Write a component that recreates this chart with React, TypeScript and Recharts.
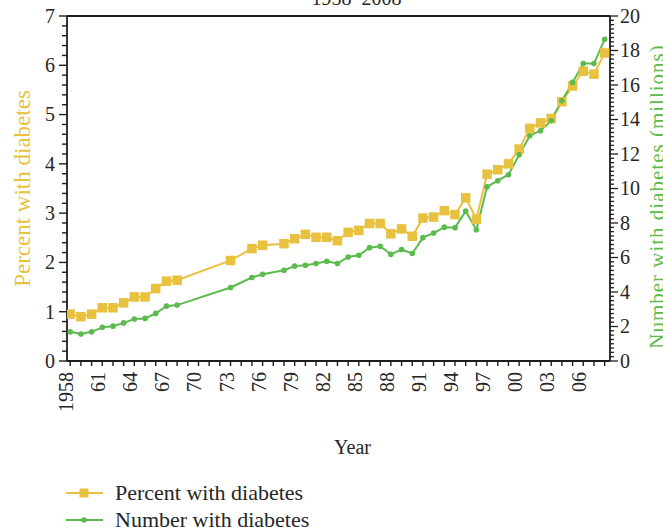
import React from 'react';
import { LineChart, Line, XAxis, YAxis, ReferenceLine, Legend } from 'recharts';

// ---------- data ----------
const years = [
  1958, 1959, 1960, 1961, 1962, 1963, 1964, 1965, 1966, 1967, 1968,
  1973, 1975, 1976, 1978, 1979,
  1980, 1981, 1982, 1983, 1984, 1985, 1986, 1987, 1988, 1989,
  1990, 1991, 1992, 1993, 1994, 1995, 1996, 1997, 1998, 1999,
  2000, 2001, 2002, 2003, 2004, 2005, 2006, 2007, 2008,
];

const percentWithDiabetes = [
  0.95, 0.9, 0.95, 1.08, 1.08, 1.18, 1.3, 1.3, 1.47, 1.62, 1.64,
  2.04, 2.28, 2.35, 2.38, 2.48,
  2.57, 2.51, 2.51, 2.44, 2.61, 2.65, 2.79, 2.79, 2.58, 2.68,
  2.53, 2.9, 2.92, 3.05, 2.97, 3.31, 2.88, 3.79, 3.88, 4.0,
  4.3, 4.72, 4.83, 4.92, 5.26, 5.58, 5.88, 5.82, 6.25,
];

const numberWithDiabetes = [
  1.69, 1.56, 1.69, 1.95, 2.02, 2.21, 2.43, 2.47, 2.76, 3.18, 3.24,
  4.26, 4.84, 5.03, 5.26, 5.5,
  5.55, 5.65, 5.78, 5.65, 6.03, 6.13, 6.57, 6.65, 6.18, 6.46,
  6.23, 7.15, 7.42, 7.76, 7.73, 8.69, 7.61, 10.1, 10.45, 10.8,
  11.95, 13.06, 13.35, 13.93, 15.09, 16.15, 17.24, 17.24, 18.65,
];

const xTickLabels = [
  '1958', '61', '64', '67', '70', '73', '76', '79', '82',
  '85', '88', '91', '94', '97', '00', '03', '06',
];
const leftMajorTicks = [0, 1, 2, 3, 4, 5, 6, 7];
const rightMajorTicks = [0, 2, 4, 6, 8, 10, 12, 14, 16, 18, 20];

const titleText = '1958–2008';
const xAxisTitle = 'Year';
const leftAxisTitle = 'Percent with diabetes';
const rightAxisTitle = 'Number with diabetes (millions)';
const seriesNames = ['Percent with diabetes', 'Number with diabetes'];

// ---------- styling ----------
const YELLOW = '#E8C13E';
const GREEN = '#5BBB4C';
const AXIS = '#1e1e1e';
const TEXT = '#262626';
const FONT = "'Liberation Serif', serif";
const TICK_SIZE = 8;
const TICK_MARGIN = 4;

const data = years.map((year, i) => ({
  year,
  percent: percentWithDiabetes[i],
  number: numberWithDiabetes[i],
}));

const xTicks: number[] = [];
for (let y = 1958; y <= 2008; y++) xTicks.push(y);
const xLabelByYear: Record<number, string> = {};
xTickLabels.forEach((l, i) => {
  xLabelByYear[1958 + 3 * i] = l;
});

const leftTicks: number[] = [];
for (let k = 0; k <= 35; k++) leftTicks.push(Math.round(k * 2) / 10);
const rightTicks: number[] = [];
for (let k = 0; k <= 80; k++) rightTicks.push(k / 4);

const isMajor = (v: number, majors: number[]) =>
  majors.some((m) => Math.abs(m - v) < 1e-6);

const LeftTick = (props: any) => {
  const { x, y, payload } = props;
  const v = payload.value as number;
  const axisX = x + TICK_MARGIN + TICK_SIZE;
  const major = isMajor(v, leftMajorTicks);
  const len = major ? 8 : 5;
  return (
    <g>
      <line x1={axisX - len} x2={axisX} y1={y} y2={y} stroke={AXIS} strokeWidth={1.4} />
      {major && (
        <text x={x} y={y} dy="0.34em" textAnchor="end" fontSize={20} fontFamily={FONT} fill={TEXT}>
          {v}
        </text>
      )}
    </g>
  );
};

const RightTick = (props: any) => {
  const { x, y, payload } = props;
  const v = payload.value as number;
  const axisX = x - TICK_MARGIN - TICK_SIZE;
  const major = isMajor(v, rightMajorTicks);
  const len = major ? 8 : 4;
  return (
    <g>
      <line x1={axisX} x2={axisX + len} y1={y} y2={y} stroke={AXIS} strokeWidth={1.3} />
      {major && (
        <text x={x - 2} y={y} dy="0.34em" textAnchor="start" fontSize={20} fontFamily={FONT} fill={TEXT}>
          {v}
        </text>
      )}
    </g>
  );
};

const BottomTick = (props: any) => {
  const { x, y, payload } = props;
  const v = payload.value as number;
  const axisY = y - TICK_MARGIN - TICK_SIZE;
  const label = xLabelByYear[v];
  const tx = x + 3;
  const ty = axisY + 11;
  return (
    <g>
      <line x1={x} x2={x} y1={axisY} y2={axisY + 5} stroke={AXIS} strokeWidth={1.4} />
      {label && (
        <text
          x={tx}
          y={ty}
          textAnchor="end"
          fontSize={20}
          fontFamily={FONT}
          fill={TEXT}
          transform={`rotate(-90, ${tx}, ${ty})`}
        >
          {label}
        </text>
      )}
    </g>
  );
};

const SquareDot = (props: any) => {
  const { cx, cy, index } = props;
  if (cx == null || cy == null) return <g key={`s-${index}`} />;
  return <rect key={`s-${index}`} x={cx - 4.75} y={cy - 4.75} width={9.5} height={9.5} fill={YELLOW} />;
};

const RoundDot = (props: any) => {
  const { cx, cy, index } = props;
  if (cx == null || cy == null) return <g key={`c-${index}`} />;
  return <circle key={`c-${index}`} cx={cx} cy={cy} r={2.8} fill={GREEN} />;
};

const YearLabel = (props: any) => {
  const vb = props.viewBox || {};
  return (
    <text
      x={vb.x + vb.width / 2 + 14}
      y={vb.y + 86}
      dy="0.34em"
      textAnchor="middle"
      fontSize={20}
      fontFamily={FONT}
      fill={TEXT}
    >
      {xAxisTitle}
    </text>
  );
};

const LeftTitle = (props: any) => {
  const vb = props.viewBox || {};
  const cx = vb.x + 22;
  const cy = vb.y + vb.height / 2;
  return (
    <text
      x={cx}
      y={cy}
      dy="0.34em"
      textAnchor="middle"
      fontSize={23}
      fontFamily={FONT}
      fill={YELLOW}
      transform={`rotate(-90, ${cx}, ${cy})`}
    >
      {leftAxisTitle}
    </text>
  );
};

const RightTitle = (props: any) => {
  const vb = props.viewBox || {};
  const cx = vb.x + 47;
  const cy = vb.y + vb.height / 2 + 8;
  return (
    <text
      x={cx}
      y={cy}
      dy="0.34em"
      textAnchor="middle"
      fontSize={21}
      letterSpacing={1}
      fontFamily={FONT}
      fill={GREEN}
      transform={`rotate(-90, ${cx}, ${cy})`}
    >
      {rightAxisTitle}
    </text>
  );
};

const TitleLabel = (props: any) => {
  const vb = props.viewBox || {};
  return (
    <text
      x={vb.x + vb.width / 2 + 18}
      y={vb.y - 11}
      textAnchor="middle"
      fontSize={20}
      fontFamily={FONT}
      fill={TEXT}
    >
      {titleText}
    </text>
  );
};

const legendRows = [
  { color: YELLOW, square: true, label: seriesNames[0] },
  { color: GREEN, square: false, label: seriesNames[1] },
];

const renderLegend = () => (
  <svg width={330} height={50} style={{ display: 'block' }}>
    {legendRows.map((r, i) => {
      const cy = 14 + i * 27;
      return (
        <g key={r.label}>
          <line x1={0} x2={37} y1={cy} y2={cy} stroke={r.color} strokeWidth={2} />
          {r.square ? (
            <rect x={13.5} y={cy - 4.5} width={9} height={9} fill={r.color} />
          ) : (
            <circle cx={18} cy={cy} r={2.8} fill={r.color} />
          )}
          <text x={49} y={cy} dy="0.34em" fontSize={22} fontFamily={FONT} fill={TEXT}>
            {r.label}
          </text>
        </g>
      );
    })}
  </svg>
);

export default function App() {
  return (
    <div style={{ position: 'absolute', left: 0, top: 0 }}>
      <LineChart
        width={663}
        height={529}
        data={data}
        margin={{ top: 16, right: 0, bottom: 0, left: 0 }}
        style={{ fontFamily: FONT }}
      >
        <XAxis
          dataKey="year"
          type="number"
          domain={[1957.7, 2008.5]}
          allowDataOverflow
          ticks={xTicks}
          interval={0}
          tickLine={false}
          tickSize={TICK_SIZE}
          tickMargin={TICK_MARGIN}
          tick={<BottomTick />}
          height={168}
          axisLine={{ stroke: AXIS, strokeWidth: 1.8 }}
          label={(p: any) => <YearLabel {...p} />}
        />
        <YAxis
          yAxisId="left"
          orientation="left"
          domain={[0, 7]}
          allowDataOverflow
          ticks={leftTicks}
          interval={0}
          width={67}
          tickLine={false}
          tickSize={TICK_SIZE}
          tickMargin={TICK_MARGIN}
          tick={<LeftTick />}
          axisLine={{ stroke: AXIS, strokeWidth: 1.8 }}
          label={(p: any) => <LeftTitle {...p} />}
        />
        <YAxis
          yAxisId="right"
          orientation="right"
          domain={[0, 20]}
          allowDataOverflow
          ticks={rightTicks}
          interval={0}
          width={53}
          tickLine={false}
          tickSize={TICK_SIZE}
          tickMargin={TICK_MARGIN}
          tick={<RightTick />}
          axisLine={{ stroke: AXIS, strokeWidth: 1.8 }}
          label={(p: any) => <RightTitle {...p} />}
        />
        <ReferenceLine
          yAxisId="left"
          y={7}
          stroke={AXIS}
          strokeWidth={1.8}
          label={(p: any) => <TitleLabel {...p} />}
        />
        <Legend
          layout="vertical"
          align="center"
          verticalAlign="middle"
          content={renderLegend}
          wrapperStyle={{ left: 66, top: 479, width: 330, height: 50 }}
        />
        <Line
          yAxisId="left"
          dataKey="percent"
          name={seriesNames[0]}
          stroke={YELLOW}
          strokeWidth={2}
          dot={SquareDot}
          activeDot={false}
          isAnimationActive={false}
        />
        <Line
          yAxisId="right"
          dataKey="number"
          name={seriesNames[1]}
          stroke={GREEN}
          strokeWidth={2}
          dot={RoundDot}
          activeDot={false}
          isAnimationActive={false}
        />
      </LineChart>
    </div>
  );
}
